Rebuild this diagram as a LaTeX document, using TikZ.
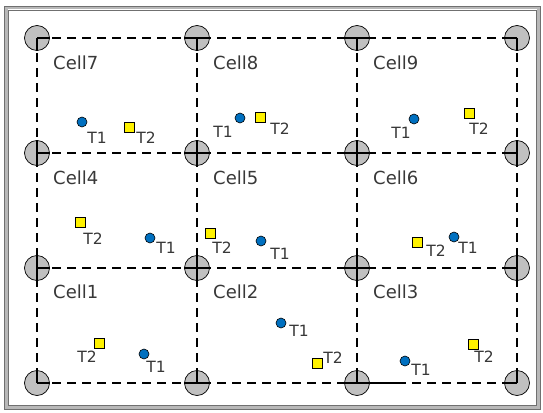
\documentclass[tikz,border=0pt]{standalone}
\usepackage{fontspec}
\setmainfont{DejaVu Sans}
\definecolor{cornergray}{HTML}{C0C0C0}
\definecolor{toneblue}{HTML}{0070C0}
\definecolor{textgray}{HTML}{383838}
\definecolor{framedark}{HTML}{707070}
\definecolor{framelight}{HTML}{B8B8B8}
\begin{document}
\begin{tikzpicture}[x=1pt,y=-1pt,
  corner/.style={circle,draw=black,line width=0.7pt,fill=cornergray,minimum size=25pt,inner sep=0pt},
  gridline/.style={line width=1.5pt,dash pattern=on 9pt off 6pt},
  spoke/.style={line width=1.5pt},
  tone/.style={circle,draw=black,line width=0.6pt,fill=toneblue,minimum size=10pt,inner sep=0pt},
  ttwo/.style={rectangle,draw=black,line width=0.6pt,fill=yellow,minimum size=10pt,inner sep=0pt},
  lbl/.style={font=\fontsize{15.5}{16}\selectfont,text=textgray,inner sep=0pt},
  celllbl/.style={font=\fontsize{18}{18}\selectfont,text=textgray,inner sep=0pt,anchor=west}]
\useasboundingbox (0,0) rectangle (543,412);
% frame
\draw[framelight,line width=3pt] (6,8) rectangle (538,407);
\draw[framedark,line width=0.9pt] (4,6) rectangle (540,409);
\draw[framedark,line width=0.9pt] (8,10) rectangle (536,405);
% grid points
\foreach \c/\x in {1/37,2/197,3/357,4/517}{
  \foreach \r/\y in {1/38,2/153,3/268,4/383}{
    \coordinate (p-\c-\r) at (\x,\y);
  }
}
% dashed grid
\foreach \r in {1,2,3,4}{ \draw[gridline] (p-1-\r) -- (p-4-\r); }
\foreach \c in {1,2,3,4}{ \draw[gridline] (p-\c-1) -- (p-\c-4); }
% corner circles
\foreach \c in {1,2,3,4}{
  \foreach \r in {1,2,3,4}{
    \node[corner] (k-\c-\r) at (p-\c-\r) {};
  }
}
% solid spokes inside circles
\foreach \c in {1,2,3,4}{
  \foreach \r in {1,2,3,4}{
    \ifnum\c<4 \draw[spoke] (k-\c-\r.center) -- (k-\c-\r.east); \fi
    \ifnum\c>1 \draw[spoke] (k-\c-\r.center) -- (k-\c-\r.west); \fi
    \ifnum\r<4 \draw[spoke] (k-\c-\r.center) -- (k-\c-\r.south); \fi
    \ifnum\r>1 \draw[spoke] (k-\c-\r.center) -- (k-\c-\r.north); \fi
  }
}
\coordinate (segend) at (405,383);
\draw[spoke] (k-3-4.east) -- (segend);
% cell labels
\node[celllbl] (cell7) at (53,62.5) {Cell7};
\node[celllbl] (cell8) at (213,62.5) {Cell8};
\node[celllbl] (cell9) at (373,62.5) {Cell9};
\node[celllbl] (cell4) at (53,178) {Cell4};
\node[celllbl] (cell5) at (213,178) {Cell5};
\node[celllbl] (cell6) at (373,178) {Cell6};
\node[celllbl] (cell1) at (53,292) {Cell1};
\node[celllbl] (cell2) at (213,292) {Cell2};
\node[celllbl] (cell3) at (373,292) {Cell3};
% Cell7
\node[tone] (d7) at (82,122) {};
\node[lbl] (d7l) at (97,138) {T1};
\node[ttwo] (s7) at (129,127) {};
\node[lbl] (s7l) at (146,138) {T2};
% Cell8
\node[tone] (d8) at (240,118) {};
\node[lbl] (d8l) at (223,132) {T1};
\node[ttwo] (s8) at (260,117) {};
\node[lbl] (s8l) at (280,129) {T2};
% Cell9
\node[tone] (d9) at (414,119) {};
\node[lbl] (d9l) at (401,133) {T1};
\node[ttwo] (s9) at (469,113) {};
\node[lbl] (s9l) at (479,129) {T2};
% Cell4
\node[ttwo] (s4) at (80,222) {};
\node[lbl] (s4l) at (93,239) {T2};
\node[tone] (d4) at (150,238) {};
\node[lbl] (d4l) at (166,248) {T1};
% Cell5
\node[ttwo] (s5) at (210,233) {};
\node[lbl] (s5l) at (222,248) {T2};
\node[tone] (d5) at (261,241) {};
\node[lbl] (d5l) at (280,254) {T1};
% Cell6
\node[ttwo] (s6) at (417,242) {};
\node[lbl] (s6l) at (436,251) {T2};
\node[tone] (d6) at (454,237) {};
\node[lbl] (d6l) at (468,248) {T1};
% Cell1
\node[ttwo] (s1) at (99,343) {};
\node[lbl] (s1l) at (87,357) {T2};
\node[tone] (d1) at (144,354) {};
\node[lbl] (d1l) at (156,367) {T1};
% Cell2
\node[tone] (d2) at (281,323) {};
\node[lbl] (d2l) at (299,331) {T1};
\node[ttwo] (s2) at (317,363) {};
\node[lbl] (s2l) at (333,358) {T2};
% Cell3
\node[tone] (d3) at (405,361) {};
\node[lbl] (d3l) at (421,370) {T1};
\node[ttwo] (s3) at (473,344) {};
\node[lbl] (s3l) at (484,357) {T2};
\end{tikzpicture}
\end{document}
